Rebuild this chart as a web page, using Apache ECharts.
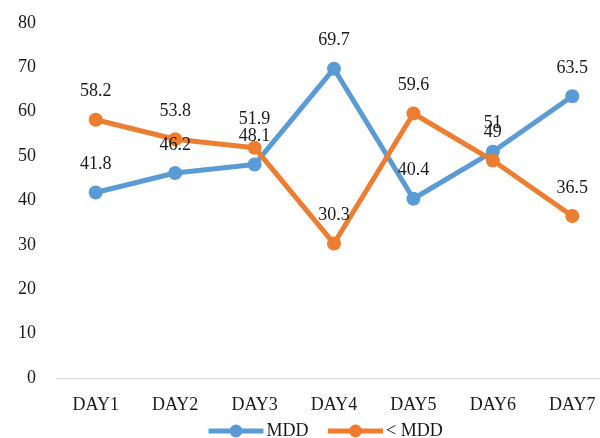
<!DOCTYPE html>
<html><head><meta charset="utf-8">
<script src="https://cdn.jsdelivr.net/npm/echarts@6/dist/echarts.min.js"></script>
<style>html,body{margin:0;padding:0;background:#fff;overflow:hidden;width:600px;height:438px}#c{width:612px;height:438px}</style>
</head><body><div id="c"></div>
<script>
var categories = ['DAY1','DAY2','DAY3','DAY4','DAY5','DAY6','DAY7'];
var mdd = [41.8, 46.2, 48.1, 69.7, 40.4, 51, 63.5];
var ltMdd = [58.2, 53.8, 51.9, 30.3, 59.6, 49, 36.5];
var seriesNames = ['MDD', '< MDD'];
var FONT = 'Liberation Serif';
var TXT = '#1a1a1a';
var chart = echarts.init(document.getElementById('c'));
function mk(name, data, color){
  return {
    name: name, type: 'line', data: data,
    symbol: 'circle', symbolSize: 14,
    lineStyle: {width: 5, color: color},
    itemStyle: {color: color},
    label: {show: true, position: 'top', distance: 12, color: TXT, fontFamily: FONT, fontSize: 18},
    emphasis: {disabled: true}, animation: false
  };
}
chart.setOption({
  animation: false,
  grid: {left: 56, right: 0, top: 23, bottom: 60, containLabel: false},
  legend: {
    top: 417, left: 201, itemWidth: 55, itemHeight: 16, itemGap: 17,
    lineStyle: {width: 5},
    textStyle: {color: TXT, fontFamily: FONT, fontSize: 18, padding: [0,0,0,-2]},
    data: seriesNames
  },
  xAxis: {
    type: 'category', data: categories, boundaryGap: true,
    axisLine: {lineStyle: {color: '#d9d9d9', width: 1}},
    axisTick: {show: false},
    axisLabel: {color: TXT, fontFamily: FONT, fontSize: 18, margin: 18}
  },
  yAxis: {
    type: 'value', min: 0, max: 80, interval: 10,
    axisLine: {show: false}, axisTick: {show: false},
    splitLine: {show: false},
    axisLabel: {color: TXT, fontFamily: FONT, fontSize: 18, margin: 20}
  },
  series: [mk(seriesNames[0], mdd, '#5B9BD5'), mk(seriesNames[1], ltMdd, '#ED7D31')]
});
</script></body></html>
